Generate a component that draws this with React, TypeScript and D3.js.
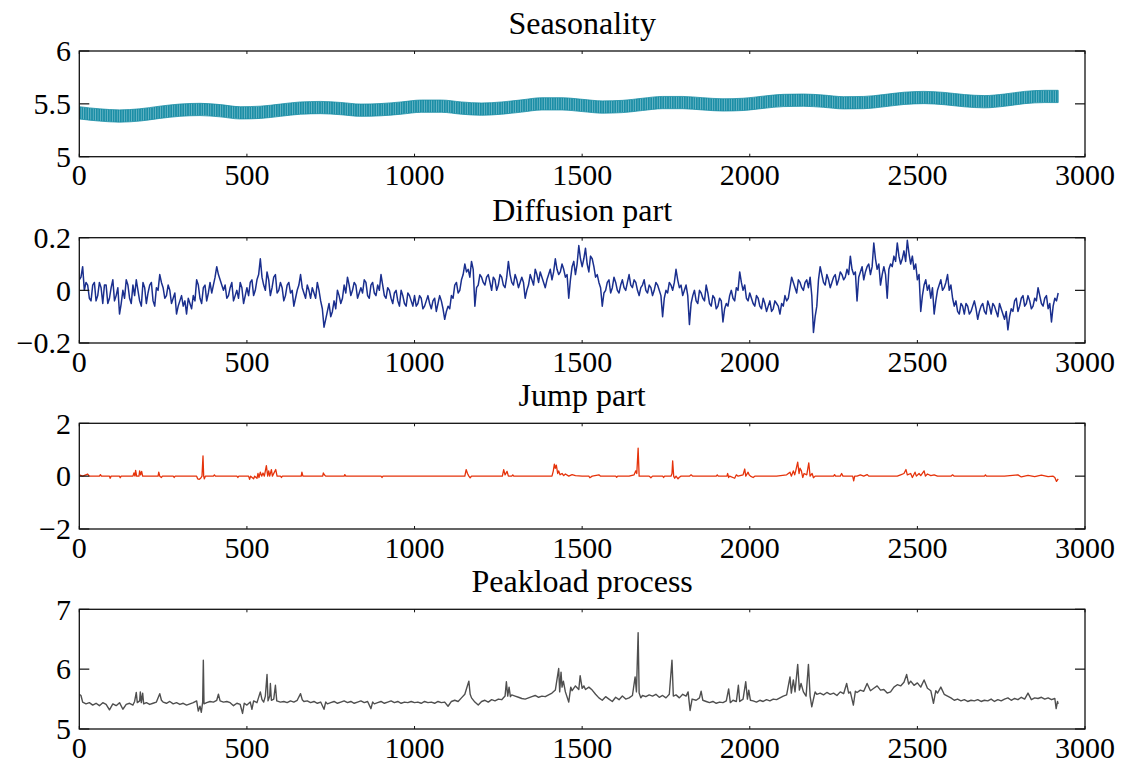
import React from "react";
import * as d3 from "d3";

// ---------- data ----------
const seasonDays = [0,60,120,180,240,300,360,420,480,540,600,660,720,780,840,900,960,1020,1080,1140,1200,1260,1320,1380,1440,1500,1560,1620,1680,1740,1800,1860,1920,1980,2040,2100,2160,2220,2280,2340,2400,2460,2520,2580,2640,2700,2760,2820,2880,2920];
const seasonMid = [5.415,5.395,5.385,5.395,5.42,5.44,5.447,5.435,5.415,5.42,5.44,5.46,5.465,5.455,5.44,5.445,5.46,5.478,5.478,5.46,5.45,5.46,5.48,5.5,5.5,5.485,5.47,5.475,5.495,5.512,5.512,5.5,5.49,5.495,5.515,5.532,5.535,5.525,5.51,5.512,5.53,5.552,5.56,5.55,5.53,5.52,5.535,5.56,5.57,5.57];
const seasonHalfWidth = 0.058;

const diffusionStep = 5;
const diffusion = [
  0.04,0.05,0.09,0.0,0.03,0.02,-0.03,-0.04,0.02,0.03,-0.04,-0.02,0.03,0.01,-0.05,0.02,0.02,-0.05,-0.03,0.01,
  0.04,-0.04,-0.02,0.01,-0.09,-0.05,0.0,-0.03,0.04,0.02,-0.03,-0.05,0.02,-0.02,0.04,0.0,-0.04,-0.06,0.03,0.01,
  -0.05,-0.01,0.02,0.03,-0.04,-0.06,0.01,0.0,0.06,0.03,0.01,-0.03,-0.02,0.02,0.0,-0.05,-0.03,-0.01,-0.09,-0.06,
  -0.04,-0.02,-0.06,-0.04,-0.09,-0.03,-0.05,-0.07,-0.02,-0.04,0.04,0.02,-0.03,-0.05,0.01,0.02,-0.04,-0.01,0.03,-0.01,
  0.02,0.05,0.09,0.06,0.04,0.02,0.0,0.02,-0.03,-0.02,0.01,0.03,-0.04,-0.02,0.0,-0.03,0.03,0.01,-0.05,-0.02,
  0.01,-0.02,0.03,0.04,-0.02,0.0,0.04,0.06,0.12,0.05,0.02,0.0,0.07,0.04,-0.02,0.01,0.05,0.06,-0.01,0.0,
  0.03,0.01,-0.04,-0.02,0.02,0.03,-0.01,0.0,-0.06,-0.03,0.0,0.02,0.06,0.01,-0.01,-0.03,0.02,0.0,-0.03,0.01,
  -0.01,-0.03,0.03,0.0,-0.04,-0.07,-0.14,-0.11,-0.08,-0.05,-0.1,-0.08,-0.04,-0.07,0.0,-0.02,-0.05,-0.03,0.02,-0.01,
  0.05,0.02,-0.02,0.0,0.03,0.02,-0.03,-0.01,0.01,-0.01,0.04,0.03,-0.02,-0.03,0.02,0.03,-0.01,-0.02,0.02,0.0,
  0.06,0.02,-0.02,-0.03,0.01,0.0,-0.03,-0.05,-0.01,0.0,-0.04,-0.06,0.0,-0.02,-0.05,-0.06,-0.01,-0.02,-0.04,-0.06,
  -0.02,-0.06,-0.05,-0.02,-0.03,-0.07,-0.06,-0.04,-0.02,-0.05,-0.07,-0.04,-0.03,-0.08,-0.05,-0.02,-0.04,-0.07,-0.11,-0.08,
  -0.06,-0.07,-0.02,-0.03,0.02,0.03,-0.01,0.0,0.04,0.06,0.1,0.07,0.08,0.05,0.11,0.08,-0.06,0.01,0.02,0.06,
  0.05,0.03,0.02,0.05,0.06,0.03,0.0,0.05,0.04,0.0,0.02,0.06,0.05,0.02,0.01,0.05,0.11,0.06,0.03,0.02,
  0.06,0.04,0.01,0.03,0.05,0.03,-0.03,0.0,0.02,0.06,0.04,0.02,0.08,0.06,0.03,0.07,0.05,0.03,0.01,0.04,
  0.06,0.08,0.04,0.07,0.12,0.08,0.06,0.07,0.1,0.08,0.05,0.06,-0.03,0.04,0.09,0.11,0.06,0.1,0.17,0.12,
  0.09,0.12,0.16,0.1,0.07,0.13,0.12,0.09,0.05,0.06,0.03,0.01,-0.06,-0.01,0.0,0.03,0.04,-0.01,0.01,0.05,
  0.03,0.0,-0.01,0.02,0.04,0.01,0.0,0.03,0.06,0.02,0.01,0.04,0.03,0.0,-0.02,0.01,0.02,0.04,0.0,-0.01,
  0.02,0.01,-0.02,0.0,0.03,0.02,0.0,-0.02,-0.1,-0.03,0.0,-0.01,0.03,0.02,0.0,0.03,0.08,0.04,0.01,0.02,
  -0.02,0.0,0.02,-0.02,-0.13,-0.05,-0.02,0.0,-0.04,-0.05,0.0,-0.01,-0.03,-0.04,0.02,-0.01,-0.05,-0.06,-0.02,-0.03,
  -0.07,-0.06,-0.03,-0.04,-0.12,-0.07,-0.05,-0.06,-0.02,0.0,-0.03,-0.04,0.01,0.0,0.07,0.03,0.0,0.02,-0.03,-0.04,
  -0.01,-0.03,-0.05,-0.06,-0.02,-0.03,-0.06,-0.07,-0.03,-0.05,-0.08,-0.06,-0.04,-0.08,-0.07,-0.04,-0.05,-0.06,-0.09,-0.05,
  -0.06,-0.02,-0.04,-0.03,0.01,0.05,0.03,0.01,-0.01,0.04,0.03,0.01,0.0,0.03,0.04,0.01,0.05,-0.02,-0.16,-0.1,
  -0.06,0.04,0.09,0.06,0.03,0.02,0.06,0.04,0.01,0.03,0.05,0.06,0.02,0.04,0.07,0.06,0.04,0.05,0.08,0.06,
  0.13,0.08,0.06,0.07,-0.04,0.05,0.07,0.09,0.04,0.07,0.09,0.1,0.06,0.09,0.18,0.12,0.08,0.1,0.02,0.06,
  0.09,0.06,-0.03,0.08,0.1,0.09,0.13,0.11,0.18,0.13,0.1,0.12,0.15,0.11,0.19,0.14,0.1,0.13,0.08,0.1,
  0.04,0.06,-0.08,-0.02,0.02,0.04,0.0,0.02,-0.03,0.01,-0.09,-0.04,0.0,0.02,0.04,0.0,0.01,0.03,0.06,0.0,
  0.02,-0.03,-0.06,-0.04,-0.08,-0.09,-0.05,-0.06,-0.09,-0.05,-0.06,-0.09,-0.08,-0.06,-0.04,-0.07,-0.11,-0.08,-0.06,-0.05,
  -0.08,-0.09,-0.04,-0.06,-0.09,-0.05,-0.06,-0.08,-0.1,-0.05,-0.07,-0.09,-0.11,-0.08,-0.15,-0.1,-0.07,-0.08,-0.04,-0.03,
  -0.08,-0.06,-0.03,-0.02,-0.06,-0.05,-0.02,-0.04,-0.07,-0.06,-0.03,-0.04,0.01,-0.02,-0.05,-0.06,-0.03,-0.02,-0.07,-0.05,
  -0.12,-0.06,-0.03,-0.04,-0.01
];

const jumpDays = [0,10,25,30,60,63,66,90,92,95,120,122,125,160,163,166,168,171,178,180,183,186,189,235,237,240,245,248,280,283,286,350,353,358,362,366,369,371,373,376,400,403,406,470,473,476,505,508,511,520,523,530,533,536,540,544,548,552,558,562,565,568,573,576,586,590,600,603,606,662,664,667,726,728,731,735,790,792,795,900,903,906,1150,1154,1158,1162,1166,1170,1262,1266,1270,1276,1280,1290,1293,1296,1410,1414,1417,1420,1423,1427,1430,1434,1440,1445,1450,1460,1470,1480,1500,1520,1523,1530,1550,1555,1600,1603,1606,1640,1655,1660,1663,1667,1670,1700,1705,1710,1740,1743,1746,1765,1768,1770,1773,1776,1780,1786,1790,1795,1820,1825,1830,1900,1903,1906,1932,1934,1937,1940,1955,1960,1965,1980,1985,1988,1995,1998,2002,2010,2015,2080,2110,2120,2124,2130,2134,2138,2143,2147,2150,2154,2158,2162,2170,2176,2180,2186,2190,2195,2250,2253,2256,2270,2274,2278,2307,2310,2313,2320,2330,2340,2350,2355,2440,2450,2460,2466,2470,2480,2485,2493,2497,2505,2510,2520,2524,2530,2540,2550,2560,2600,2605,2610,2700,2703,2706,2760,2800,2810,2830,2850,2870,2890,2905,2910,2915,2920];
const jumpValues = [0.05,0,0.08,0,0,0.06,0,0,-0.08,0,0,-0.06,0,0,0.12,0,0.22,0,0,0.2,0.05,0.18,0,0,0.15,0,-0.05,0,0,-0.05,0,0,-0.1,-0.12,-0.08,0,0.77,0,-0.1,0,0,0.05,0,0,-0.05,0,0,-0.12,0,-0.1,0,-0.08,0.1,-0.05,0.15,0,0.12,0,0.4,0,0.2,0,0.25,0,0.25,0,0,-0.05,0,0,0.15,0,0,0.12,0.05,0,0,0.06,0,0,-0.05,0,0,0.25,0.1,0,-0.06,0,0,0.25,0.05,0.18,0,0,0.05,0,0,0.2,0.45,0.3,0.42,0.1,0.2,0.05,0.1,0.02,0.08,0,0.06,0.02,0,0,-0.06,0,0.05,0,0,-0.04,0,0,0.05,0.2,0.1,1.06,0,0,-0.06,0,0,-0.05,0,0,0.1,0.58,0,-0.08,0,-0.1,-0.04,0,0,0.05,0,0,0.05,0,0,0.1,-0.05,0,-0.08,0.05,0,0.05,0.27,0,0.15,0.05,0,-0.05,0,0,0.05,0.15,0,0.2,0.05,0.25,0.53,0.1,0.3,0.2,-0.05,0.1,0.05,0.5,0,0.1,-0.06,0,0,0.06,0,0,0.1,0,0,-0.18,0,0,0.05,0,0.06,0,0,0.05,0.1,0.25,0.05,0.1,-0.05,0.15,0,0.1,0.02,0.2,0,0.08,0.02,0.05,0,0,0.05,0,0,0.05,0,0,0.05,-0.03,0.03,-0.02,0.04,-0.02,0,-0.05,-0.2,-0.1];

const peakDays = [0,5,10,20,30,40,50,60,70,80,90,100,110,120,130,140,150,160,165,170,173,180,182,185,189,192,200,210,220,230,240,245,250,260,270,280,290,300,310,320,330,340,350,355,360,364,368,370,372,380,390,400,410,415,420,430,440,450,460,470,480,487,492,500,510,515,520,530,540,545,550,555,560,563,568,570,573,580,585,589,600,610,620,630,640,650,660,665,670,680,690,700,710,720,730,735,740,750,760,770,780,790,800,810,820,830,840,850,860,870,875,880,890,900,910,920,930,940,950,960,970,980,990,1000,1010,1020,1030,1040,1050,1060,1070,1080,1090,1100,1110,1120,1130,1140,1150,1162,1166,1170,1180,1190,1200,1210,1220,1230,1240,1250,1260,1270,1274,1278,1282,1286,1290,1300,1310,1320,1330,1340,1350,1360,1370,1380,1390,1400,1410,1420,1430,1433,1437,1440,1444,1450,1460,1466,1470,1480,1490,1494,1500,1505,1510,1520,1530,1540,1550,1560,1570,1580,1590,1600,1610,1620,1630,1640,1650,1658,1662,1667,1670,1675,1680,1690,1700,1710,1720,1730,1740,1750,1760,1768,1772,1780,1790,1800,1810,1816,1822,1828,1840,1850,1855,1860,1870,1880,1890,1900,1910,1920,1930,1937,1942,1950,1960,1966,1970,1980,1988,1993,1997,2002,2010,2020,2030,2040,2050,2060,2070,2080,2090,2100,2110,2120,2124,2130,2135,2143,2148,2153,2160,2168,2175,2180,2185,2190,2195,2200,2210,2220,2230,2240,2250,2260,2270,2280,2289,2295,2300,2309,2315,2320,2330,2340,2350,2360,2370,2380,2390,2400,2410,2420,2430,2440,2450,2460,2468,2474,2480,2490,2500,2510,2520,2530,2540,2548,2555,2560,2570,2580,2590,2600,2610,2620,2630,2640,2650,2660,2670,2680,2690,2700,2710,2720,2730,2740,2750,2760,2770,2780,2790,2800,2810,2820,2830,2840,2850,2860,2870,2880,2890,2900,2910,2914,2918,2920];
const peakValues = [5.58,5.56,5.45,5.42,5.44,5.40,5.43,5.39,5.44,5.41,5.32,5.42,5.39,5.44,5.33,5.41,5.43,5.40,5.46,5.61,5.44,5.47,5.62,5.44,5.60,5.42,5.44,5.41,5.43,5.45,5.59,5.48,5.45,5.43,5.46,5.42,5.44,5.41,5.43,5.40,5.42,5.44,5.47,5.30,5.38,5.28,5.45,6.15,5.42,5.44,5.46,5.45,5.48,5.58,5.47,5.45,5.46,5.44,5.39,5.43,5.41,5.26,5.43,5.40,5.45,5.33,5.47,5.44,5.62,5.49,5.45,5.55,5.91,5.47,5.55,5.76,5.48,5.50,5.73,5.47,5.45,5.46,5.44,5.47,5.45,5.48,5.59,5.49,5.46,5.47,5.44,5.46,5.43,5.45,5.33,5.45,5.42,5.44,5.46,5.43,5.45,5.47,5.44,5.46,5.43,5.45,5.47,5.44,5.46,5.34,5.45,5.42,5.44,5.46,5.43,5.45,5.47,5.44,5.46,5.43,5.45,5.44,5.46,5.44,5.45,5.43,5.46,5.44,5.45,5.43,5.46,5.44,5.45,5.38,5.46,5.48,5.46,5.52,5.58,5.80,5.58,5.52,5.45,5.40,5.46,5.48,5.45,5.49,5.47,5.50,5.49,5.55,5.79,5.55,5.70,5.54,5.57,5.55,5.53,5.51,5.50,5.52,5.54,5.56,5.53,5.55,5.54,5.57,5.60,5.65,6.01,5.62,5.95,5.70,5.80,5.62,5.45,5.70,5.64,5.72,5.66,5.89,5.68,5.72,5.66,5.70,5.65,5.58,5.52,5.48,5.54,5.50,5.46,5.53,5.49,5.55,5.50,5.52,5.56,5.87,5.62,6.61,5.60,5.52,5.56,5.54,5.57,5.55,5.58,5.53,5.56,5.52,5.58,6.15,5.55,5.57,5.52,5.58,5.55,5.62,5.31,5.50,5.48,5.52,5.63,5.48,5.46,5.44,5.46,5.43,5.45,5.44,5.47,5.67,5.44,5.48,5.46,5.73,5.46,5.50,5.79,5.50,5.65,5.48,5.47,5.45,5.48,5.46,5.49,5.47,5.50,5.49,5.52,5.55,5.57,5.87,5.60,5.82,5.62,6.08,5.65,5.76,5.62,5.55,6.08,5.55,5.37,5.50,5.62,5.58,5.60,5.57,5.61,5.58,5.60,5.56,5.62,5.59,5.76,5.60,5.62,5.40,5.63,5.61,5.65,5.63,5.76,5.64,5.68,5.72,5.65,5.66,5.60,5.62,5.70,5.74,5.72,5.78,5.91,5.75,5.80,5.73,5.77,5.70,5.82,5.68,5.64,5.43,5.64,5.60,5.70,5.58,5.55,5.52,5.48,5.50,5.47,5.49,5.46,5.48,5.47,5.49,5.46,5.48,5.47,5.50,5.46,5.49,5.47,5.50,5.52,5.48,5.51,5.49,5.53,5.50,5.60,5.49,5.52,5.51,5.53,5.50,5.52,5.49,5.51,5.34,5.46,5.42];

const xTicks = [0, 500, 1000, 1500, 2000, 2500, 3000];

const panels = [
  { title: "Seasonality", top: 51, bottom: 156.7, domain: [5, 6], yTicks: [5, 5.5, 6], yLabels: ["5", "5.5", "6"] },
  { title: "Diffusion part", top: 237.7, bottom: 343, domain: [-0.2, 0.2], yTicks: [-0.2, 0, 0.2], yLabels: ["\u22120.2", "0", "0.2"] },
  { title: "Jump part", top: 423.3, bottom: 529, domain: [-2, 2], yTicks: [-2, 0, 2], yLabels: ["\u22122", "0", "2"] },
  { title: "Peakload process", top: 609.3, bottom: 729, domain: [5, 7], yTicks: [5, 6, 7], yLabels: ["5", "6", "7"] },
];

const LEFT = 79.3;
const RIGHT = 1085;
const FONT = "'Liberation Serif', 'Times New Roman', serif";

export default function App() {
  const x = d3.scaleLinear().domain([0, 3000]).range([LEFT, RIGHT]);
  const ys = panels.map((p) => d3.scaleLinear().domain(p.domain).range([p.bottom, p.top]));

  const seasonArea = d3
    .area<number>()
    .x((_, i) => x(seasonDays[i]))
    .y0((d) => ys[0](d - seasonHalfWidth))
    .y1((d) => ys[0](d + seasonHalfWidth))
    .curve(d3.curveMonotoneX)(seasonMid);

  const diffLine = d3
    .line<number>()
    .x((_, i) => x(i * diffusionStep))
    .y((d) => ys[1](d))(diffusion);

  const jumpLine = d3
    .line<number>()
    .x((_, i) => x(jumpDays[i]))
    .y((d) => ys[2](d))(jumpValues);

  const peakLine = d3
    .line<number>()
    .x((_, i) => x(peakDays[i]))
    .y((d) => ys[3](d))(peakValues);

  return (
    <svg
      width={1125}
      height={765}
      style={{ position: "absolute", left: 0, top: 0, background: "#fff" }}
      fontFamily={FONT}
    >
      <defs>
        <pattern id="weekly" width={2.4} height={20} patternUnits="userSpaceOnUse">
          <rect width={2.4} height={20} fill="#1b8ea6" />
          <rect x={1.7} width={0.55} height={20} fill="#8fcad6" />
        </pattern>
        {panels.map((p, i) => (
          <clipPath id={`clip${i}`} key={i}>
            <rect x={LEFT} y={p.top} width={RIGHT - LEFT} height={p.bottom - p.top} />
          </clipPath>
        ))}
      </defs>

      {/* series */}
      <g clipPath="url(#clip0)">
        <path d={seasonArea || ""} fill="url(#weekly)" stroke="#1b8ea6" strokeWidth={0.8} />
      </g>
      <g clipPath="url(#clip1)">
        <path d={diffLine || ""} fill="none" stroke="#1a2f8e" strokeWidth={1.5} strokeLinejoin="round" />
      </g>
      <g clipPath="url(#clip2)">
        <path d={jumpLine || ""} fill="none" stroke="#e5330b" strokeWidth={1.3} strokeLinejoin="round" />
      </g>
      <g clipPath="url(#clip3)">
        <path d={peakLine || ""} fill="none" stroke="#4f4f4f" strokeWidth={1.4} strokeLinejoin="round" />
      </g>

      {panels.map((p, i) => {
        const y = ys[i];
        return (
          <g key={p.title}>
            <text x={(LEFT + RIGHT) / 2} y={p.top - 17} textAnchor="middle" fontSize={32} fill="#000">
              {p.title}
            </text>
            <rect x={LEFT} y={p.top} width={RIGHT - LEFT} height={p.bottom - p.top} fill="none" stroke="#111" strokeWidth={1.3} />
            {xTicks.map((t) => (
              <g key={t}>
                <line x1={x(t)} x2={x(t)} y1={p.bottom} y2={p.bottom - 3} stroke="#111" strokeWidth={1} />
                <line x1={x(t)} x2={x(t)} y1={p.top} y2={p.top + 3} stroke="#111" strokeWidth={1} />
                <text x={x(t)} y={p.bottom + 28.5} textAnchor="middle" fontSize={30} fill="#000">
                  {t}
                </text>
              </g>
            ))}
            {p.yTicks.map((t, k) => (
              <g key={t}>
                <line x1={LEFT} x2={LEFT + 10} y1={y(t)} y2={y(t)} stroke="#111" strokeWidth={1.2} />
                <line x1={RIGHT} x2={RIGHT - 10} y1={y(t)} y2={y(t)} stroke="#111" strokeWidth={1.2} />
                <text x={71} y={y(t)} dy="0.34em" textAnchor="end" fontSize={30} fill="#000">
                  {p.yLabels[k]}
                </text>
              </g>
            ))}
          </g>
        );
      })}
    </svg>
  );
}
